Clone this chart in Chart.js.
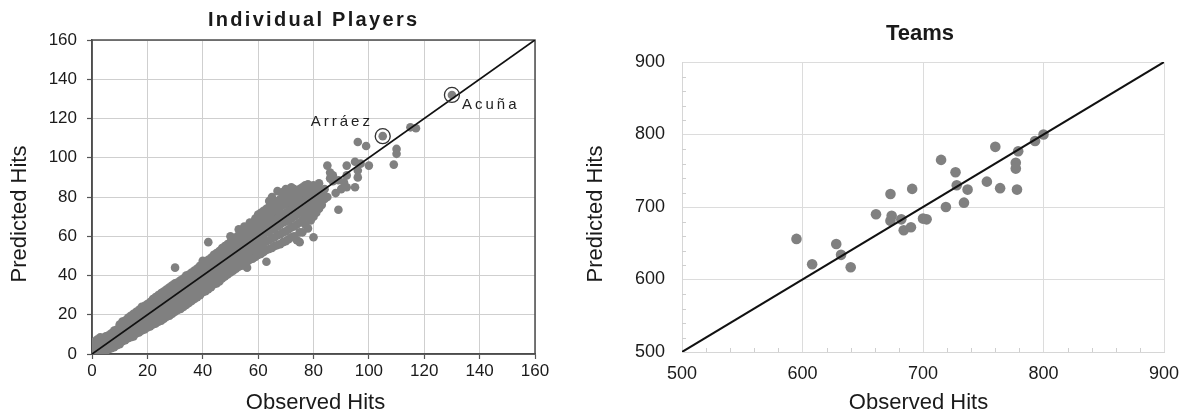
<!DOCTYPE html>
<html><head><meta charset="utf-8">
<script src="https://cdn.jsdelivr.net/npm/chart.js@4.4.1/dist/chart.umd.min.js"></script>
<style>
html,body{margin:0;padding:0;background:#fff;width:1185px;height:414px;overflow:hidden}
#c1{position:absolute;left:0;top:0}
#c2{position:absolute;left:580px;top:0}
</style></head><body>
<canvas id="c1" width="560" height="414"></canvas>
<canvas id="c2" width="605" height="414"></canvas>
<script>
// ---------- data ----------
// Individual players: observed hits, and the predicted hits of the players having that observed value
const playerObserved = [
  0,1,2,3,4,5,6,7,8,9,
  10,11,12,13,14,15,16,17,18,19,
  20,21,22,23,24,25,26,27,28,29,
  30,31,32,33,34,35,36,37,38,39,
  40,41,42,43,44,45,46,47,48,49,
  50,51,52,53,54,55,56,57,58,59,
  60,61,62,63,64,65,66,67,68,69,
  70,71,72,73,74,75,76,77,78,79,
  80,81,82,83,84,85,86,87,88,89,
  90,91,92,95,96,97,99,100,105,109,
  110,115,117,130
];
const playerPredicted = [
  [0,2,4.5,6], [0,1.5,3.5,6.5], [0.5,2.5,5,7.5], [0,1.5,4,6.5,8.5], [1,3,5.5,7.5],
  [1.5,4,6,9], [2.5,4.5,7,9.5], [3,5.5,8,10.5], [3.5,6.5,9,12], [4.5,7,10,12.5],
  [5,8,11,13.5,15], [6.5,9,12,14.5,16.5], [7,9.5,13,15.5,17], [8,10.5,13.5,16,18.5], [8.5,11.5,14.5,17,19.5],
  [9,12,15,18,20.5], [10.5,13,16.5,19,21.5], [11,14,17,20,22.5], [12,15,18,21,24], [12.5,16,19,22.5,24.5],
  [13.5,16.5,20,23,25.5], [14,17.5,21,24,26.5], [15,18.5,21.5,25,28], [15.5,19,22.5,26,29], [16.5,20,23.5,27,30],
  [17,20.5,24,28,31], [18,21.5,25,28.5,32], [19,22.5,26,29.5,33], [19.5,23,27,30.5,34], [20.5,24,28,31.5,35],
  [21.5,25,28.5,32,36,44], [22.5,26,29.5,33,36.5], [23,27,30.5,34,37.5], [24,27.5,31.5,35,38.5], [25,28.5,32.5,36,40],
  [26,29.5,33.5,37,40.5], [27,30.5,34,38,41.5], [28,31.5,35,39,42.5], [29,32.5,36,40,43.5], [30,33.5,37,41,45],
  [31.5,35,38.5,42,45.5,47.5], [32,36,39.5,43,46.5], [33,37,40.5,44,48,57], [34,38,41.5,45,49], [35.5,39,43,46.5,50.5],
  [36,40,44,47.5,51.5], [37,41,45,48.5,52.5], [38.5,42,46,50,54], [39.5,43,47,51,55], [40.5,44.5,48,52,56],
  [41.5,45.5,49.5,53,57,60], [42.5,46.5,50.5,54.5,58.5], [43.5,47.5,51.5,55.5,59.5], [44.5,48.5,52.5,56.5,60.5,63.5], [45,49.5,53.5,57.5,61.5],
  [46,50,54.5,58.5,62.5,65], [44,47,51,55.5,59.5,63.5], [48,52,56,60.5,64.5,67], [48.5,53,57,61,65.5], [49.5,54,58,62,66.5,69],
  [50.5,54.5,59,63,67,71], [51,55.5,60,64,68,72], [52,56.5,61,65,69,73], [47,53,57.5,62,66,70,74], [53.5,58,62.5,67,71,75,78],
  [54,59,63.5,68,72,76,80], [55,59.5,64,68.5,73,77], [55.5,60.5,65,69.5,74,78,83], [56,61,66,70.5,75,79], [57,62,67,71.5,76,80,82.5],
  [57.5,62.5,67.5,72,76.5,81,84], [58.5,63.5,68,73,77.5,82], [59.5,64.5,69,74,78.5,83,85], [60,65,70,75,79.5,84], [58,66,71,76,80.5],
  [57,62,67,72,77,81.5,84], [62,68,73,78,82.5,85], [66,70,74,79,83.5,86], [64,71,75,80,84.5,86.5], [68,72,76,81,85],
  [59.5,70,73,77,82,86], [72,75,79,83], [74,77,80,84,87], [76,81], [79,84],
  [80,96], [89.5,92.5], [88,91], [82], [73.5,88.5],
  [84], [87.5], [85,91,96], [85,98], [90,93.5,108],
  [97], [106], [96], [111], [96.5],
  [102,104.5], [115.5], [115], [132]
];
const highlightNames = ['Arráez', 'Acuña'];
const highlightObserved = [105, 130];
const highlightPredicted = [111, 132];

const teamObserved  = [595,608,628,632,640,661,673,674,682,684,690,700,703,673,691,715,719,727,728,734,737,753,760,764,777,777,778,779,793,800];
const teamPredicted = [656,621,649,634,617,690,681,688,683,668,672,684,683,718,725,765,700,748,730,706,724,735,783,726,761,753,724,777,791,800];

const playerTickValues = [0,20,40,60,80,100,120,140,160];
const teamTickValues = [500,600,700,800,900];
const teamMinorStep = 20;
const playerDiagonal = [0,160];
const teamDiagonal = [500,900];

// ---------- helpers ----------
const pts = (xs, ys) => xs.map((x, i) => ({x, y: ys[i]}));
const groupedPts = (xs, groups) => xs.flatMap((x, i) => groups[i].map(y => ({x, y})));
const FONT = "'Liberation Sans', Arial, Helvetica, sans-serif";
const TXT = '#1a1a1a';

function drawText(ctx, t, x, y, o) {
  ctx.save();
  ctx.font = o.font;
  ctx.fillStyle = o.color || TXT;
  ctx.textAlign = o.align || 'center';
  ctx.textBaseline = o.baseline || 'alphabetic';
  const sp = o.spacing || 0;
  if ('letterSpacing' in ctx) ctx.letterSpacing = sp + 'px';
  ctx.translate(x, y);
  if (o.rot) ctx.rotate(o.rot);
  const shift = (ctx.textAlign === 'center' && sp) ? sp / 2 : 0;
  ctx.fillText(t, shift, 0);
  ctx.restore();
}

function fixedBox(size, horizontal) {
  return s => {
    if (horizontal) s.height = size; else s.width = size;
    s.paddingLeft = s.paddingRight = s.paddingTop = s.paddingBottom = 0;
  };
}

Chart.defaults.font.family = FONT;
Chart.defaults.color = TXT;

// ---------- left chart: Individual Players ----------
const leftPlugins = {
  id: 'leftDecor',
  beforeDatasetsDraw(chart) {
    const {ctx, chartArea: a} = chart;
    ctx.save();
    ctx.strokeStyle = '#4d4d4d';
    ctx.lineWidth = 1.5;
    ctx.strokeRect(a.left, a.top, a.right - a.left, a.bottom - a.top);
    ctx.restore();
  },
  afterDraw(chart) {
    const {ctx, chartArea: a, scales} = chart;
    const cx = (a.left + a.right) / 2;
    drawText(ctx, 'Individual Players', cx - 1, 26, {font: `bold 20px ${FONT}`, spacing: 2.3});
    drawText(ctx, 'Observed Hits', cx + 2, 409, {font: `22px ${FONT}`});
    drawText(ctx, 'Predicted Hits', 20, (a.top + a.bottom) / 2 + 17, {font: `22px ${FONT}`, baseline: 'middle', rot: -Math.PI / 2});
    const offs = [[-72, -10], [10, 14]];
    highlightNames.forEach((n, i) => {
      const px = scales.x.getPixelForValue(highlightObserved[i]);
      const py = scales.y.getPixelForValue(highlightPredicted[i]);
      drawText(ctx, n, px + offs[i][0], py + offs[i][1], {font: `15px ${FONT}`, spacing: 3, align: 'left', color: '#222'});
    });
  }
};

new Chart(document.getElementById('c1'), {
  type: 'scatter',
  data: {
    datasets: [
      {
        label: 'highlight', data: pts(highlightObserved, highlightPredicted),
        pointRadius: 7.5, pointBackgroundColor: 'rgba(0,0,0,0)', pointBorderColor: '#333', pointBorderWidth: 1.3, order: 0
      },
      {
        label: 'y = x', type: 'line', data: pts(playerDiagonal, playerDiagonal),
        borderColor: '#111', borderWidth: 1.8, pointRadius: 0, fill: false, order: 1
      },
      {
        label: 'Players', data: groupedPts(playerObserved, playerPredicted),
        pointRadius: 4.3, pointBackgroundColor: '#808080', pointBorderWidth: 0, pointBorderColor: '#808080', order: 2
      }
    ]
  },
  options: {
    responsive: false, animation: false, devicePixelRatio: 1,
    layout: {padding: {left: 0, right: 25, top: 40, bottom: 0}},
    plugins: {legend: {display: false}, tooltip: {enabled: false}, title: {display: false}},
    scales: {
      x: {
        type: 'linear', min: 0, max: 160,
        afterBuildTicks: s => { s.ticks = playerTickValues.map(v => ({value: v})); },
        ticks: {font: {size: 17}, color: TXT, padding: 2, maxRotation: 0},
        grid: {color: '#cfcfcf', lineWidth: 1, tickLength: 5, tickColor: '#555', tickWidth: 1.2},
        border: {color: '#4d4d4d', width: 1.5},
        afterFit: fixedBox(60, true)
      },
      y: {
        type: 'linear', min: 0, max: 160,
        afterBuildTicks: s => { s.ticks = playerTickValues.map(v => ({value: v})); },
        ticks: {font: {size: 17}, color: TXT, padding: 10},
        grid: {color: '#cfcfcf', lineWidth: 1, tickLength: 5, tickColor: '#555', tickWidth: 1.2},
        border: {color: '#4d4d4d', width: 1.5},
        afterFit: fixedBox(92, false)
      }
    }
  },
  plugins: [leftPlugins]
});

// ---------- right chart: Teams ----------
const rightPlugins = {
  id: 'rightDecor',
  beforeDatasetsDraw(chart) {
    const {ctx, chartArea: a, scales: {x, y}} = chart;
    ctx.save();
    ctx.strokeStyle = '#cfcfcf';
    ctx.lineWidth = 1;
    ctx.beginPath();
    for (let v = x.min + teamMinorStep; v < x.max; v += teamMinorStep) {
      if (v % 100 === 0) continue;
      const px = Math.round(x.getPixelForValue(v)) + 0.5;
      ctx.moveTo(px, a.bottom); ctx.lineTo(px, a.bottom - 4);
    }
    for (let v = y.min + teamMinorStep; v < y.max; v += teamMinorStep) {
      if (v % 100 === 0) continue;
      const py = Math.round(y.getPixelForValue(v)) + 0.5;
      ctx.moveTo(a.left, py); ctx.lineTo(a.left + 4, py);
    }
    ctx.stroke();
    ctx.restore();
  },
  afterDraw(chart) {
    const {ctx, chartArea: a} = chart;
    const cx = (a.left + a.right) / 2;
    drawText(ctx, 'Teams', cx - 3, 40, {font: `bold 22px ${FONT}`});
    drawText(ctx, 'Observed Hits', cx - 4.5, 409, {font: `22px ${FONT}`});
    drawText(ctx, 'Predicted Hits', 16, (a.top + a.bottom) / 2 + 7, {font: `22px ${FONT}`, baseline: 'middle', rot: -Math.PI / 2});
  }
};

new Chart(document.getElementById('c2'), {
  type: 'scatter',
  data: {
    datasets: [
      {
        label: 'y = x', type: 'line', data: pts(teamDiagonal, teamDiagonal),
        borderColor: '#111', borderWidth: 2, pointRadius: 0, fill: false, order: 0
      },
      {
        label: 'Teams', data: pts(teamObserved, teamPredicted),
        pointRadius: 5.3, pointBackgroundColor: '#808080', pointBorderWidth: 0, pointBorderColor: '#808080', order: 1
      }
    ]
  },
  options: {
    responsive: false, animation: false, devicePixelRatio: 1,
    layout: {padding: {left: 0, right: 21, top: 62, bottom: 0}},
    plugins: {legend: {display: false}, tooltip: {enabled: false}, title: {display: false}},
    scales: {
      x: {
        type: 'linear', min: 500, max: 900,
        afterBuildTicks: s => { s.ticks = teamTickValues.map(v => ({value: v})); },
        ticks: {font: {size: 18}, color: TXT, padding: 11, maxRotation: 0},
        grid: {color: '#dcdcdc', lineWidth: 1, drawTicks: false},
        border: {color: '#d6d6d6', width: 1},
        afterFit: fixedBox(62, true)
      },
      y: {
        type: 'linear', min: 500, max: 900,
        afterBuildTicks: s => { s.ticks = teamTickValues.map(v => ({value: v})); },
        ticks: {font: {size: 18}, color: TXT, padding: 17},
        grid: {color: '#dcdcdc', lineWidth: 1, drawTicks: false},
        border: {color: '#d6d6d6', width: 1},
        afterFit: fixedBox(102, false)
      }
    }
  },
  plugins: [rightPlugins]
});
</script>
</body></html>
